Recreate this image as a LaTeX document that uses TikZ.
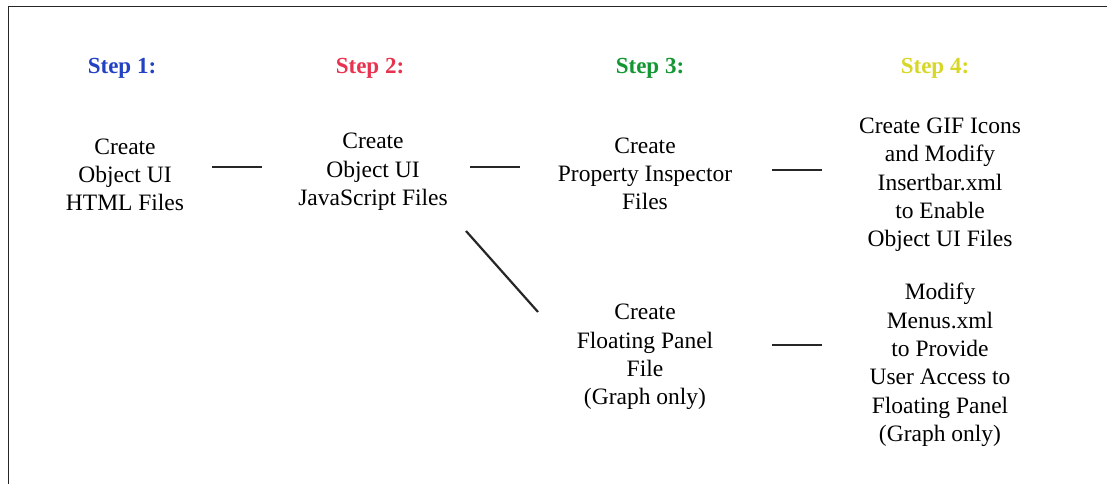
\documentclass[tikz,border=0pt]{standalone}
\usepackage{fontspec}
\setmainfont{Liberation Serif}
\definecolor{stepblue}{RGB}{35,65,195}
\definecolor{stepred}{RGB}{232,50,80}
\definecolor{stepgreen}{RGB}{20,150,50}
\definecolor{stepyellow}{RGB}{215,215,40}
\tikzset{
  steplabel/.style={font=\fontsize{23}{26}\selectfont\bfseries, inner sep=0pt},
  stepbox/.style={font=\fontsize{23.5}{28.3}\selectfont, align=center, inner sep=0pt},
  conn/.style={line width=2.2pt, black!85},
  frame/.style={line width=1.8pt, black!85}
}
\begin{document}
\begin{tikzpicture}[x=1pt,y=-1pt]
\useasboundingbox (0,0) rectangle (1107,483);
\draw[frame] (8.5,490) -- (8.5,6.5) -- (1110,6.5);

\node[steplabel, text=stepblue]   (l1) at (122,68) {Step 1:};
\node[steplabel, text=stepred]    (l2) at (370,68) {Step 2:};
\node[steplabel, text=stepgreen]  (l3) at (650,68) {Step 3:};
\node[steplabel, text=stepyellow] (l4) at (935,68) {Step 4:};

\node[stepbox] (s1) at (125,175) {Create\\Object UI\\HTML Files};
\node[stepbox] (s2) at (373,172) {Create\\Object UI\\JavaScript Files};
\node[stepbox] (s3) at (645,174) {Create\\Property Inspector\\Files};
\node[stepbox] (s4) at (940,185) {Create GIF Icons\\and Modify\\Insertbar.xml\\to Enable\\Object UI Files};
\node[stepbox] (s5) at (645,357) {Create\\Floating Panel\\File\\(Graph only)};
\node[stepbox] (s6) at (940,365) {Modify\\Menus.xml\\to Provide\\User Access to\\Floating Panel\\(Graph only)};

\coordinate (a1) at (212,167); \coordinate (b1) at (262,167);
\coordinate (a2) at (470,167); \coordinate (b2) at (520,167);
\coordinate (a3) at (772,170); \coordinate (b3) at (822,170);
\coordinate (a4) at (466,231); \coordinate (b4) at (538,312);
\coordinate (a5) at (772,345); \coordinate (b5) at (822,345);

\draw[conn] (a1) -- (b1);
\draw[conn] (a2) -- (b2);
\draw[conn] (a3) -- (b3);
\draw[conn] (a4) -- (b4);
\draw[conn] (a5) -- (b5);
\end{tikzpicture}
\end{document}
